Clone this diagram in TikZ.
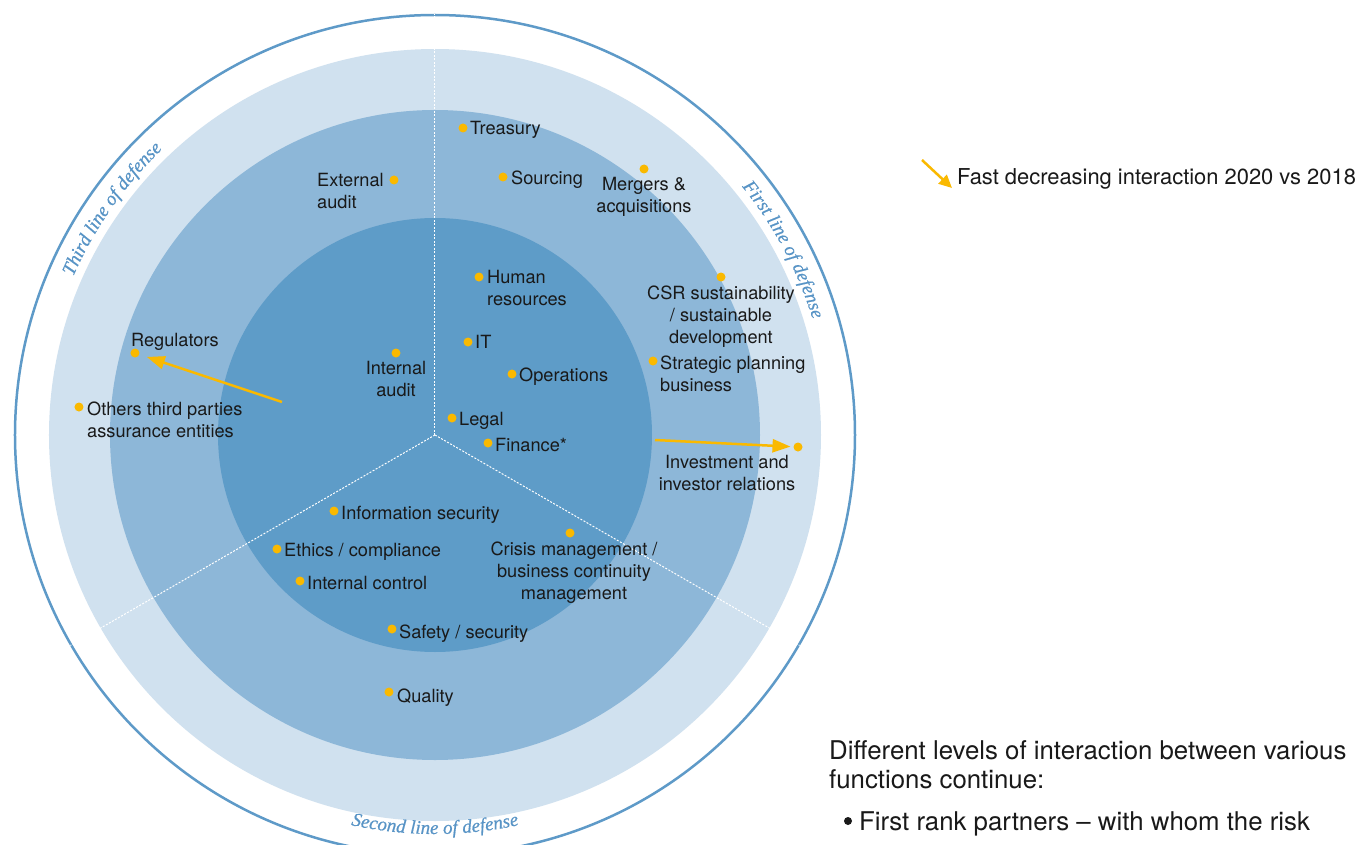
\documentclass[tikz,border=0pt]{standalone}
\usepackage{fontspec}
\setsansfont{TeX Gyre Heros}
\newfontfamily\defit{Liberation Serif}[FakeBold=0.6]
\usetikzlibrary{arrows.meta,decorations.text}
\definecolor{cLight}{RGB}{208,225,239}
\definecolor{cMid}{RGB}{141,183,216}
\definecolor{cIn}{RGB}{94,156,200}
\definecolor{cOut}{RGB}{94,154,200}
\definecolor{cCurve}{RGB}{88,148,198}
\definecolor{cDot}{RGB}{250,185,0}
\definecolor{cText}{RGB}{25,25,25}
\begin{document}
\begin{tikzpicture}[x=1pt,y=1pt,
  dot/.style={circle,fill=cDot,minimum size=9pt,inner sep=0pt,outer sep=0pt},
  lbl/.style={inner sep=0pt,font=\sffamily\fontsize{18.2}{22}\selectfont,text=cText},
  big/.style={inner sep=0pt,font=\sffamily\fontsize{25.8}{29}\selectfont,text=cText,align=left},
  arr/.style={draw=cDot,line width=2.5pt,-{Triangle[length=18pt,width=13pt]}},
  sepline/.style={draw=white,line width=1pt,dash pattern=on 2pt off 1.5pt},
  curved/.style={decorate,decoration={text along path,text align=center,text color=cCurve,
     text={|\defit\itshape\fontsize{19}{19}\selectfont|#1}}}]
\useasboundingbox (-435,-409) rectangle (925,435);
\fill[white] (-435,-409) rectangle (925,435);
\coordinate (O) at (0,0);
% rings
\draw[cOut,line width=2.5pt] (O) circle (420);
\fill[cLight] (O) circle (386);
\fill[cMid] (O) circle (325);
\fill[cIn] (O) circle (217);
% separators
\coordinate (s1) at (90:421);
\coordinate (s2) at (210:421);
\coordinate (s3) at (-30:421);
\draw[sepline] (O) -- (s1);
\draw[sepline] (O) -- (s2);
\draw[sepline] (O) -- (s3);
% curved titles
\path[curved={Third line of defense}] (165:395) arc[start angle=165,end angle=125,radius=395];
\path[curved={First line of defense}] (48:395) arc[start angle=48,end angle=8,radius=395];
\path[curved={Second line of defense}] (-110:399) arc[start angle=-110,end angle=-70,radius=399];
% dots
\node[dot] (d-tre) at (28,307) {};
\node[dot] (d-sou) at (68,258) {};
\node[dot] (d-mer) at (209,266) {};
\node[dot] (d-ext) at (-41,255) {};
\node[dot] (d-hum) at (44,158) {};
\node[dot] (d-it) at (33,93) {};
\node[dot] (d-ia) at (-39,82) {};
\node[dot] (d-ope) at (77,61) {};
\node[dot] (d-leg) at (17,17) {};
\node[dot] (d-fin) at (53,-8) {};
\node[dot] (d-csr) at (286,158) {};
\node[dot] (d-str) at (218,74) {};
\node[dot] (d-inv) at (363,-12) {};
\node[dot] (d-reg) at (-300,82) {};
\node[dot] (d-oth) at (-356,28) {};
\node[dot] (d-inf) at (-101,-76) {};
\node[dot] (d-eth) at (-158,-114) {};
\node[dot] (d-ic) at (-135,-146) {};
\node[dot] (d-cri) at (135,-98) {};
\node[dot] (d-saf) at (-43,-194) {};
\node[dot] (d-qua) at (-46,-257) {};
% labels
\node[lbl,anchor=north west] (t-tre) at (35,313.5) {Treasury};
\node[lbl,anchor=north west] (t-sou) at (76,264.5) {Sourcing};
\node[lbl,anchor=north,align=center] (t-mer) at (209,257.5) {Mergers \&\\acquisitions};
\node[lbl,anchor=north west,align=left] (t-ext) at (-118,261.5) {External\\audit};
\node[lbl,anchor=north west,align=left] (t-hum) at (52,164.5) {Human\\resources};
\node[lbl,anchor=north west] (t-it) at (40,99.5) {IT};
\node[lbl,anchor=north,align=center] (t-ia) at (-39,73.5) {Internal\\audit};
\node[lbl,anchor=north west] (t-ope) at (84,67.5) {Operations};
\node[lbl,anchor=north west] (t-leg) at (24,22.5) {Legal};
\node[lbl,anchor=north west] (t-fin) at (60,-3.5) {Finance*};
\node[lbl,anchor=north,align=center] (t-csr) at (286,149.5) {CSR sustainability\\/ sustainable\\development};
\node[lbl,anchor=north west,align=left] (t-str) at (225,79.5) {Strategic planning\\business};
\node[lbl,anchor=north,align=center] (t-inv) at (292,-20.5) {Investment and\\investor relations};
\node[lbl,anchor=north] (t-reg) at (-260,101.5) {Regulators};
\node[lbl,anchor=north west,align=left] (t-oth) at (-348,33.5) {Others third parties\\assurance entities};
\node[lbl,anchor=north west] (t-inf) at (-94,-70.5) {Information security};
\node[lbl,anchor=north west] (t-eth) at (-151,-108.5) {Ethics / compliance};
\node[lbl,anchor=north west] (t-ic) at (-128,-141.5) {Internal control};
\node[lbl,anchor=north,align=center] (t-cri) at (139,-106.5) {Crisis management /\\business continuity\\management};
\node[lbl,anchor=north west] (t-saf) at (-36,-189.5) {Safety / security};
\node[lbl,anchor=north west] (t-qua) at (-38,-253.5) {Quality};
% arrows
\coordinate (a-reg) at (-153,33);
\coordinate (a-inv) at (220,-5);
\draw[arr,shorten >=8pt] (a-reg) -- (d-reg);
\draw[arr,shorten >=3pt] (a-inv) -- (d-inv);
% legend
\coordinate (l1) at (487,275);
\coordinate (l2) at (517,247);
\draw[draw=cDot,line width=2.5pt,-{Triangle[length=13pt,width=12pt]}] (l1) -- (l2);
\node[inner sep=0pt,anchor=north west,font=\sffamily\fontsize{21.9}{26}\selectfont,text=cText] (t-leg2) at (522,266.5) {Fast decreasing interaction 2020 vs 2018};
% bottom text
\node[big,anchor=north west] (t-p1) at (394,-305.8) {Different levels of interaction between various\\functions continue:};
\node[circle,fill=cText,minimum size=8pt,inner sep=0pt] (b1) at (413,-386) {};
\node[big,anchor=north west] (t-p2) at (424,-376.8) {First rank partners – with whom the risk};
\end{tikzpicture}
\end{document}
